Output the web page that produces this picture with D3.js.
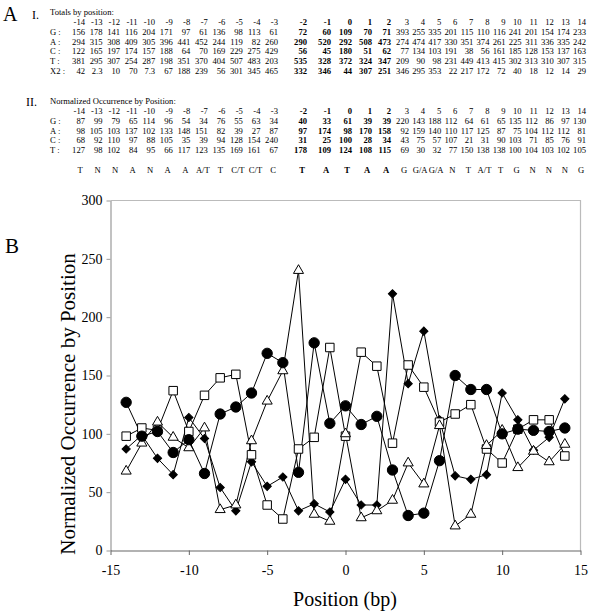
<!DOCTYPE html>
<html><head><meta charset="utf-8">
<script src="https://cdn.jsdelivr.net/npm/d3@7"></script>
<style>
body{margin:0;background:#fff}
svg{display:block}
text{font-family:"Liberation Serif","Times New Roman",serif;fill:#000}
</style>
</head><body><svg id="c" width="608" height="612"></svg>
<script>
// ---------------- data ----------------
const positions = [-14,-13,-12,-11,-10,-9,-8,-7,-6,-5,-4,-3,-2,-1,0,1,2,3,4,5,6,7,8,9,10,11,12,13,14];
const boldPositions = [-2,-1,0,1,2];
const totG  = [156,178,141,116,204,171,97,61,136,98,113,61,72,60,109,70,71,393,255,335,201,115,110,116,241,201,154,174,233];
const totA  = [294,315,308,409,305,396,441,452,244,119,82,260,290,520,292,508,473,274,474,417,330,351,374,261,225,311,336,335,242];
const totC  = [122,165,197,174,157,188,64,70,169,229,275,429,56,45,180,51,62,77,134,103,191,38,56,161,185,128,153,137,163];
const totT  = [381,295,307,254,287,198,351,370,404,507,483,203,535,328,372,324,347,209,90,98,231,449,413,415,302,313,310,307,315];
const totX2 = ["42","2.3","10","70","7.3","67","188","239","56","301","345","465","332","346","44","307","251","346","295","353","22","217","172","72","40","18","12","14","29"];
const normG = [87,99,79,65,114,96,54,34,76,55,63,34,40,33,61,39,39,220,143,188,112,64,61,65,135,112,86,97,130];
const normA = [98,105,103,137,102,133,148,151,82,39,27,87,97,174,98,170,158,92,159,140,110,117,125,87,75,104,112,112,81];
const normC = [68,92,110,97,88,105,35,39,94,128,154,240,31,25,100,28,34,43,75,57,107,21,31,90,103,71,85,76,91];
const normT = [127,98,102,84,95,66,117,123,135,169,161,67,178,109,124,108,115,69,30,32,77,150,138,138,100,104,103,102,105];
const consensus = ["T","N","N","A","N","A","A","A/T","T","C/T","C/T","C","T","A","T","A","A","G","G/A","G/A","N","T","A/T","T","G","N","N","N","G"];
const xTicks = [-15,-10,-5,0,5,10,15];
const yTicks = [0,50,100,150,200,250,300];
const xTitle = "Position (bp)";
const yTitle = "Normalized Occurrence by Position";

const svg = d3.select("#c");

// ---------------- panel A: tables ----------------
const colRight = d3.scaleLinear()
  .domain([-14, -3, -2, -1, 0, 1, 2, 3, 14])
  .range([85, 278, 307, 331, 352, 372, 391, 409, 586]);
const tfs = 8.6;

svg.append("text").attr("x",3).attr("y",21).attr("font-size",20).text("A");
svg.append("text").attr("x",32).attr("y",19).attr("font-size",12).text("I.");
svg.append("text").attr("x",26).attr("y",106).attr("font-size",12).text("II.");
svg.append("text").attr("x",50).attr("y",14.5).attr("font-size",tfs).text("Totals by position:");
svg.append("text").attr("x",50).attr("y",104).attr("font-size",tfs).text("Normalized Occurrence by Position:");

function tableRows(rows, headerY, pitch){
  svg.append("g").selectAll("text").data(positions).join("text")
    .attr("x", d => colRight(d)).attr("y", headerY)
    .attr("text-anchor","end").attr("font-size",tfs)
    .attr("font-weight", d => boldPositions.includes(d) ? "bold" : null)
    .text(d => d);
  rows.forEach((r,i) => {
    const yy = headerY + pitch*(i+1);
    svg.append("text").attr("x",50).attr("y",yy).attr("font-size",tfs).text(r.label);
    svg.append("g").selectAll("text").data(r.values).join("text")
      .attr("x", (d,j) => colRight(positions[j])).attr("y", yy)
      .attr("text-anchor","end").attr("font-size",tfs)
      .attr("font-weight", (d,j) => boldPositions.includes(positions[j]) ? "bold" : null)
      .text(d => d);
  });
}
tableRows([
  {label:"G :", values: totG},
  {label:"A :", values: totA},
  {label:"C :", values: totC},
  {label:"T :", values: totT},
  {label:"X2 :", values: totX2}
], 25, 9.8);
tableRows([
  {label:"G :", values: normG},
  {label:"A :", values: normA},
  {label:"C :", values: normC},
  {label:"T :", values: normT}
], 114, 9.8);

svg.append("g").selectAll("text").data(consensus).join("text")
  .attr("x", (d,j) => colRight(positions[j]) - 5)
  .attr("y", 173)
  .attr("text-anchor","middle").attr("font-size",tfs)
  .attr("font-weight", (d,j) => boldPositions.includes(positions[j]) ? "bold" : null)
  .text(d => d);

// ---------------- panel B: chart ----------------
svg.append("text").attr("x",5).attr("y",253).attr("font-size",21).text("B");

const x = d3.scaleLinear().domain([-15,15]).range([110.5,580.5]);
const y = d3.scaleLinear().domain([0,300]).range([550.5,200.5]);

svg.append("path")
  .attr("d", `M${x(-15)},${y(300)}H${x(15)}V${y(0)}`)
  .attr("fill","none").attr("stroke","#bbb").attr("stroke-width",1.2);

const yAxis = svg.append("g").attr("transform",`translate(${x(-15)},0)`)
  .call(d3.axisLeft(y).tickValues(yTicks).tickSize(4).tickPadding(4).tickSizeOuter(0).tickFormat(d => String(d)));
yAxis.select(".domain").attr("stroke","#999").attr("stroke-width",1.2);
yAxis.selectAll(".tick line").attr("stroke","#999");
yAxis.selectAll("text").attr("font-size",14).attr("font-family","Liberation Serif").attr("fill","#000");

const xAxis = svg.append("g").attr("transform",`translate(0,${y(0)})`)
  .call(d3.axisBottom(x).tickValues(xTicks).tickSize(4.5).tickPadding(10).tickSizeOuter(0).tickFormat(d => String(d)));
xAxis.select(".domain").attr("stroke","#666").attr("stroke-width",1.2);
xAxis.selectAll(".tick line").attr("stroke","#666");
xAxis.selectAll("text").attr("font-size",14).attr("font-family","Liberation Serif").attr("fill","#000");

svg.append("text").attr("x",345).attr("y",606).attr("text-anchor","middle").attr("font-size",20).text(xTitle);
svg.append("text").attr("transform","translate(75,404) rotate(-90)").attr("text-anchor","middle").attr("font-size",21).text(yTitle);

const series = [
  {name:"G", values: normG, sym: "diamond"},
  {name:"A", values: normA, sym: "square"},
  {name:"C", values: normC, sym: "triangle"},
  {name:"T", values: normT, sym: "circle"}
];
const line = d3.line().x(d => x(d.p)).y(d => y(d.v));
series.forEach(s => {
  const pts = s.values.map((v,i) => ({p: positions[i], v}));
  svg.append("path").attr("d", line(pts)).attr("fill","none").attr("stroke","#000").attr("stroke-width",1);
});
series.forEach(s => {
  const pts = s.values.map((v,i) => ({p: positions[i], v}));
  const g = svg.append("g");
  let sym, fill, rot = 0;
  if (s.sym === "diamond"){ sym = d3.symbol(d3.symbolSquare, 34); fill = "#000"; rot = 45; }
  else if (s.sym === "square"){ sym = d3.symbol(d3.symbolSquare, 72); fill = "#fff"; }
  else if (s.sym === "triangle"){ sym = d3.symbol(d3.symbolTriangle, 44); fill = "#fff"; }
  else { sym = d3.symbol(d3.symbolCircle, 84); fill = "#000"; }
  g.selectAll("path").data(pts).join("path")
    .attr("d", sym)
    .attr("transform", d => `translate(${x(d.p)},${y(d.v)}) rotate(${rot})`)
    .attr("fill", fill).attr("stroke","#000").attr("stroke-width",1);
});
</script>
</body></html>
